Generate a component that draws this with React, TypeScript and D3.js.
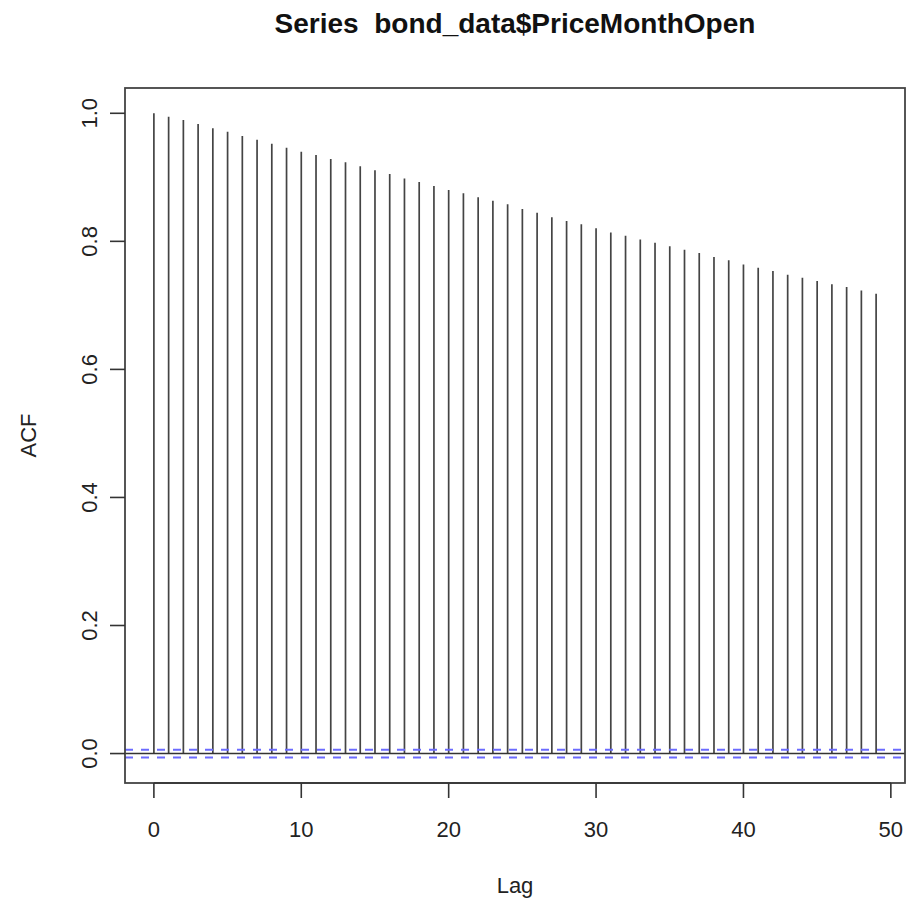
import React, { useRef, useEffect } from "react";
import * as d3 from "d3";

// ACF values, lag 0..49
const lags = d3.range(0, 50);
const acfValues = [
  1.0, 0.9947, 0.9896, 0.9833, 0.9766, 0.9713, 0.9646, 0.9588, 0.9525, 0.9463,
  0.94, 0.9348, 0.9286, 0.9234, 0.9172, 0.911, 0.905, 0.898, 0.8927, 0.8864,
  0.88, 0.875, 0.8688, 0.8635, 0.8578, 0.8505, 0.8447, 0.8375, 0.8317, 0.8266,
  0.8203, 0.814, 0.8088, 0.803, 0.7978, 0.7922, 0.7869, 0.7817, 0.7755, 0.7703,
  0.764, 0.7588, 0.7536, 0.748, 0.743, 0.738, 0.7328, 0.7286, 0.7234, 0.718,
];
const confLimit = 0.006;
const xTicks = [0, 10, 20, 30, 40, 50];
const yTicks = [0, 0.2, 0.4, 0.6, 0.8, 1.0];
const title = "Series  bond_data$PriceMonthOpen";

function AcfPlot() {
  const ref = useRef<SVGSVGElement>(null);

  const W = 907,
    H = 901;
  const box = { left: 125, right: 905, top: 88, bottom: 783 };

  useEffect(() => {
    const svg = d3.select(ref.current);
    svg.selectAll("*").remove();
    const font = "'Liberation Sans', Arial, Helvetica, sans-serif";

    // R extends the range by 4% on each side
    const x = d3.scaleLinear().domain([-1.96, 50.96]).range([box.left, box.right]);
    const y = d3.scaleLinear().domain([-0.046, 1.0395]).range([box.bottom, box.top]);

    // spikes
    svg.append("g")
      .selectAll("line")
      .data(lags)
      .enter()
      .append("line")
      .attr("x1", (d) => x(d))
      .attr("x2", (d) => x(d))
      .attr("y1", y(0))
      .attr("y2", (d) => y(acfValues[d]))
      .attr("stroke", "#444")
      .attr("stroke-width", 1.7);

    // zero line
    svg.append("line")
      .attr("x1", box.left).attr("x2", box.right)
      .attr("y1", y(0)).attr("y2", y(0))
      .attr("stroke", "#333").attr("stroke-width", 1.6);

    // confidence bounds
    [confLimit, -confLimit].forEach((c) => {
      svg.append("line")
        .attr("x1", box.left).attr("x2", box.right)
        .attr("y1", y(c)).attr("y2", y(c))
        .attr("stroke", "#6b6bff")
        .attr("stroke-width", 2)
        .attr("stroke-dasharray", "8,8");
    });

    // box
    svg.append("rect")
      .attr("x", box.left).attr("y", box.top)
      .attr("width", box.right - box.left)
      .attr("height", box.bottom - box.top)
      .attr("fill", "none")
      .attr("stroke", "#444")
      .attr("stroke-width", 1.8);

    // x axis
    const gx = svg.append("g");
    gx.append("line")
      .attr("x1", x(0)).attr("x2", x(50))
      .attr("y1", box.bottom).attr("y2", box.bottom)
      .attr("stroke", "#333").attr("stroke-width", 1.6);
    xTicks.forEach((t) => {
      gx.append("line")
        .attr("x1", x(t)).attr("x2", x(t))
        .attr("y1", box.bottom).attr("y2", box.bottom + 15)
        .attr("stroke", "#333").attr("stroke-width", 1.6);
      gx.append("text")
        .attr("x", x(t)).attr("y", 837)
        .attr("text-anchor", "middle")
        .style("font-family", font).style("font-size", "22px")
        .attr("fill", "#222")
        .text(String(t));
    });

    // y axis
    const gy = svg.append("g");
    yTicks.forEach((t) => {
      gy.append("line")
        .attr("x1", box.left - 15).attr("x2", box.left)
        .attr("y1", y(t)).attr("y2", y(t))
        .attr("stroke", "#333").attr("stroke-width", 1.6);
      gy.append("text")
        .attr("transform", `translate(97,${y(t)}) rotate(-90)`)
        .attr("text-anchor", "middle")
        .style("font-family", font).style("font-size", "22px")
        .attr("fill", "#222")
        .text(t.toFixed(1));
    });

    svg.append("text")
      .attr("transform", `translate(36,${(box.top + box.bottom) / 2}) rotate(-90)`)
      .attr("text-anchor", "middle")
      .style("font-family", font).style("font-size", "22px")
      .attr("fill", "#222")
      .text("ACF");

    svg.append("text")
      .attr("x", (box.left + box.right) / 2).attr("y", 893)
      .attr("text-anchor", "middle")
      .style("font-family", font).style("font-size", "22px")
      .attr("fill", "#222")
      .text("Lag");

    svg.append("text")
      .attr("x", (box.left + box.right) / 2).attr("y", 33)
      .attr("text-anchor", "middle")
      .style("font-family", font).style("font-size", "28px")
      .style("font-weight", "bold")
      .style("white-space", "pre")
      .attr("fill", "#111")
      .text(title);
  }, []);

  return (
    <svg
      ref={ref}
      width={W}
      height={H}
      style={{ position: "absolute", left: 0, top: 0, background: "#fff" }}
    />
  );
}

export default function App() {
  return <AcfPlot />;
}
